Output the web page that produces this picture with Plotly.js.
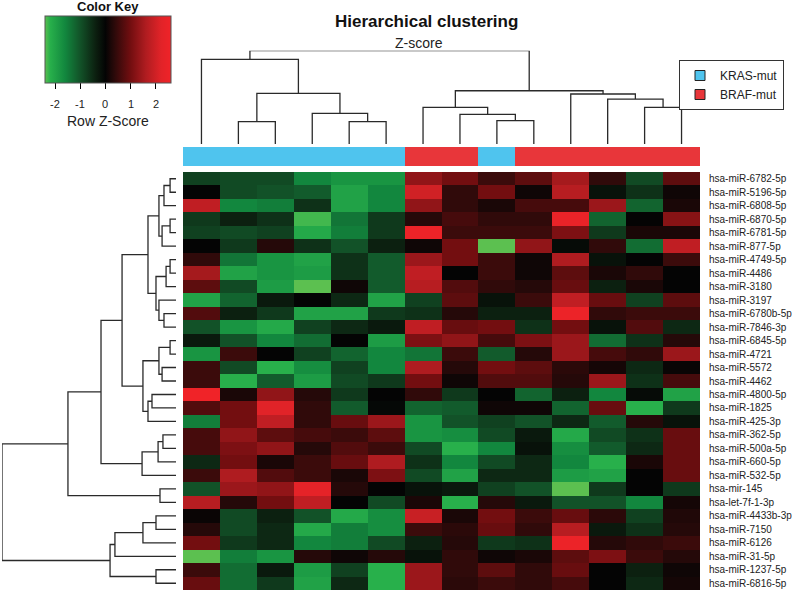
<!DOCTYPE html>
<html><head><meta charset="utf-8">
<script src="https://cdn.plot.ly/plotly-3.0.1.min.js"></script>
<style>html,body{margin:0;padding:0;background:#fff}#chart{width:800px;height:593px}</style>
</head><body><div id="chart"></div>
<script>
// ---- data ----
const sampleGroups = ['KRAS-mut','KRAS-mut','KRAS-mut','KRAS-mut','KRAS-mut','KRAS-mut',
  'BRAF-mut','BRAF-mut','KRAS-mut','BRAF-mut','BRAF-mut','BRAF-mut','BRAF-mut','BRAF-mut'];
const groupNames = ['KRAS-mut','BRAF-mut'];
const groupColors = ['#4fc4ee','#e8363a'];

const geneLabels = ['hsa-miR-6782-5p','hsa-miR-5196-5p','hsa-miR-6808-5p','hsa-miR-6870-5p','hsa-miR-6781-5p',
  'hsa-miR-877-5p','hsa-miR-4749-5p','hsa-miR-4486','hsa-miR-3180','hsa-miR-3197','hsa-miR-6780b-5p',
  'hsa-miR-7846-3p','hsa-miR-6845-5p','hsa-miR-4721','hsa-miR-5572','hsa-miR-4462','hsa-miR-4800-5p',
  'hsa-miR-1825','hsa-miR-425-3p','hsa-miR-362-5p','hsa-miR-500a-5p','hsa-miR-660-5p','hsa-miR-532-5p',
  'hsa-mir-145','hsa-let-7f-1-3p','hsa-miR-4433b-3p','hsa-miR-7150','hsa-miR-6126','hsa-miR-31-5p',
  'hsa-miR-1237-5p','hsa-miR-6816-5p'];

const zscores = [
  [-0.8,-0.9,-0.9,-1.6,-1.8,-1.8, 1.3, 1.0, 0.5, 0.8, 1.5, 0.4,-0.9, 0.8],
  [ 0.0,-0.9,-1.0,-1.1,-2.0,-1.6, 2.0, 0.4, 1.0, 0.1, 1.7,-0.2,-0.6, 0.1],
  [ 1.8,-1.6,-1.5,-0.6,-2.0,-1.6, 1.3, 0.4, 0.2, 0.6, 0.6, 1.4,-1.2, 0.2],
  [-0.7,-0.4,-0.6,-2.3,-1.4,-0.7, 0.3, 0.6, 0.4, 0.4, 2.4,-1.2, 0.0, 1.2],
  [-0.8,-0.9,-0.8,-2.1,-1.5,-0.7, 2.5, 0.5, 0.5, 0.5, 1.1,-0.7, 0.2, 0.2],
  [ 0.0,-0.7, 0.3,-0.6,-1.0,-0.4, 0.1, 1.0,-2.6, 1.3,-0.1, 0.4,-1.3, 1.8],
  [ 0.4,-1.4,-1.8,-2.0,-0.6,-1.1, 1.4, 1.0, 0.5, 0.1, 1.6,-0.2, 0.0, 0.5],
  [ 1.5,-2.0,-1.8,-1.9,-0.6,-1.1, 1.8, 0.0, 0.5, 0.1, 0.8, 0.2, 0.4, 0.0],
  [ 0.8,-0.9,-1.9,-2.5, 0.1,-1.1, 1.7, 0.7, 0.4, 0.3, 0.9,-0.4, 0.2, 0.0],
  [-2.0,-1.2,-0.3, 0.0,-0.5,-2.0,-0.8, 0.8,-0.2, 0.5, 1.8, 0.9,-0.8, 0.8],
  [ 0.7,-0.4,-0.7,-2.0,-2.0,-0.7,-0.6, 0.3,-0.4,-0.4, 2.5, 0.4, 0.5, 0.5],
  [-1.0,-1.8,-2.1,-0.8,-0.5,-0.3, 1.8, 0.9, 1.0,-0.6, 1.0,-0.2, 0.7,-0.5],
  [-0.3,-1.0,-1.6,-1.3, 0.0,-1.9, 1.1, 1.3, 0.6, 1.1, 1.4,-1.3,-0.6, 0.3],
  [-1.8, 0.5, 0.0,-0.8,-1.2,-1.6,-1.4, 0.5,-1.1, 0.3, 1.4, 0.6, 0.4, 1.4],
  [ 0.5,-0.9,-2.2,-1.7,-0.8,-1.6, 1.6, 0.3, 1.0, 0.8, 0.35,0.15,-0.5,0.05],
  [ 0.5,-2.2,-1.1,-1.9,-0.9,-0.7, 1.0, 0.1, 0.7, 0.7, 0.3, 1.4,-0.6, 0.6],
  [ 2.6, 0.2, 1.3, 0.3,-0.7, 0.0, 0.4,-0.7, 0.0,-1.2,-0.4,-1.6,-0.1,-2.0],
  [ 0.7, 1.0, 2.2, 0.4,-1.1,-0.05,-1.2,-1.1,0.1, 0.1,-1.2, 0.9,-2.2,-0.7],
  [-1.5, 1.0, 1.8, 0.4, 0.9, 1.4,-1.8,-1.0,-0.8,-1.0,-0.5,-1.1, 0.3,-0.2],
  [ 0.6, 1.3, 0.8, 0.6, 0.5, 0.8,-1.8,-1.7,-0.9,-0.3,-2.1,-0.9,-0.6, 0.9],
  [ 0.6, 1.1, 1.3, 0.3, 0.7, 0.5,-0.9,-2.2,-1.6,-0.2,-1.7,-1.1,-0.5, 0.9],
  [-0.5, 1.0, 0.2, 0.5, 0.9, 1.6,-0.6,-1.6,-0.9,-0.5,-1.6,-2.2, 0.2, 0.9],
  [ 0.5, 1.6, 0.7, 0.5, 0.2, 1.1,-0.9,-2.0,-0.5,-0.5,-1.9,-2.0, 0.0, 0.9],
  [-1.0, 1.4, 1.3, 2.3, 0.3, 0.0,-0.2,-0.3,-0.8,-1.0,-2.4,-0.7, 0.0,-0.7],
  [ 1.7, 0.3, 1.0, 1.8, 0.0,-0.9, 0.2,-2.2, 0.3,-0.3,-1.0,-1.0,-1.6, 0.15],
  [ 0.05,-0.9,-0.4,-1.0,-2.1,-1.7,1.9, 0.2, 1.0, 0.5, 0.9, 0.35,-0.8,0.25],
  [ 0.3,-0.9,-0.5,-2.1,-1.5,-1.7, 0.5, 0.35,0.9, 0.4, 1.7,-0.3,-0.6, 0.3],
  [ 1.0,-0.7,-0.5,-1.6,-1.5,-0.9,-0.4, 0.3,-0.7,-0.6, 2.5, 0.3, 0.4, 0.5],
  [-2.5,-1.5,-1.8, 0.3, 0.1, 0.3,-0.2, 0.4, 0.1, 0.2, 0.8, 1.1, 0.5, 0.3],
  [ 0.5,-1.3,-0.3,-1.9,-0.8,-2.2, 1.4, 0.4, 0.8, 0.4, 0.9, 0.0,-0.4, 0.1],
  [ 0.9,-1.3,-0.7,-2.0,-0.5,-2.2, 1.4, 0.35,0.5, 0.4, 0.6, 0.0,-0.5, 0.15]
];

// column dendrogram (hclust style merge: negative = leaf, positive = earlier merge)
const colMergeLeft   = [-2,-5,-4, 1,-1,-9,-8,-7,-13,-12,-11, 8, 5];
const colMergeRight  = [-3,-6, 2, 3, 4,-10, 6, 7,-14,  9, 10,11,12];
const colMergeHeight = [2.39,2.39,3.29,5.43,9.08,2.5,3.18,3.93,3.93,4.82,5.36,5.71,10];

// row dendrogram
const rowMergeLeft   = [-1, 1,-4, 3, 2,-7, 6,-11,-10, 7, 5,-13,-15,12,-17,15,14,11,-20,19,20,18,-24,22,-26,25,26,-30,27,24];
const rowMergeRight  = [-2,-3,-5,-6, 4,-8,-9,-12,  8, 9,10,-14,-16,13,-18,-19,16,17,-21,-22,-23,21,-25,23,-27,-28,-29,-31,28,29];
const rowMergeHeight = [0.34,0.69,0.34,0.80,0.98,0.34,0.57,0.69,0.98,1.15,1.61,0.34,0.80,0.98,1.38,1.61,1.90,3.10,0.75,1.03,1.95,4.31,0.92,6.21,1.15,1.90,3.51,1.15,3.79,10];

// colour key
const keyStops  = [-2.4,-2.2,-1.6,-1.0,-0.4,0,0.4,1.0,1.6,2.2,2.6];
const keyColors = ['rgb(92,192,80)','rgb(40,176,75)','rgb(18,135,62)','rgb(18,82,40)','rgb(12,32,16)',
  'rgb(4,4,4)','rgb(48,10,10)','rgb(115,14,16)','rgb(175,28,32)','rgb(225,35,40)','rgb(240,35,40)'];
const keyTicks = [-2,-1,0,1,2];
const keyTickText = ['-2','-1','0','1','2'];

// ---- build ----
const W = 800, H = 593;
const zmin = keyStops[0], zmax = keyStops[keyStops.length-1];
const colorscale = keyStops.map((s,i)=>[(s-zmin)/(zmax-zmin), keyColors[i]]);
const KEY_L = 45, KEY_W = 126, KEY_T = 16, KEY_H = 67;

function dendro(left, right, height){
  const pos=[], hgt=[], p=[], h=[];
  const np = i => i<0 ? -i-1 : pos[i-1];
  const nh = i => i<0 ? 0 : hgt[i-1];
  for(let k=0;k<left.length;k++){
    const pl=np(left[k]), pr=np(right[k]), hl=nh(left[k]), hr=nh(right[k]), hh=height[k];
    p.push(pl,pl,pr,pr,null); h.push(hl,hh,hh,hr,null);
    pos.push((pl+pr)/2); hgt.push(hh);
  }
  return {p,h};
}
const colD = dendro(colMergeLeft,colMergeRight,colMergeHeight);
const rowD = dendro(rowMergeLeft,rowMergeRight,rowMergeHeight);
const colIdx = sampleGroups.map((_,i)=>i);
const rowIdx = geneLabels.map((_,i)=>i);
const lineStyle = {color:'#2a2a2a', width:1.3};
const FONT = 'Liberation Sans, Arial, sans-serif';

const traces = [
  {type:'heatmap', x:colIdx, y:rowIdx, z:zscores, xaxis:'x', yaxis:'y',
   colorscale, zmin, zmax, showscale:true, hoverinfo:'z',
   colorbar:{orientation:'h', x:(KEY_L+KEY_W/2)/W, xanchor:'center', y:1-KEY_T/H, yanchor:'top',
     len:KEY_W, lenmode:'pixels', thickness:KEY_H, thicknessmode:'pixels',
     outlinecolor:'#555', outlinewidth:1, xpad:0, ypad:0,
     tickvals:keyTicks, ticks:'outside', ticklen:6, tickcolor:'#000', tickwidth:1,
     showticklabels:false, title:{text:''}}},
  {type:'heatmap', x:colIdx, y:[0], z:[sampleGroups.map(g=>groupNames.indexOf(g))],
   xaxis:'x', yaxis:'y3', showscale:false, zmin:0, zmax:1, hoverinfo:'skip',
   colorscale:[[0,groupColors[0]],[0.5,groupColors[0]],[0.5,groupColors[1]],[1,groupColors[1]]]},
  {type:'scatter', mode:'lines', x:colD.p, y:colD.h, xaxis:'x', yaxis:'y2', line:lineStyle,
   showlegend:false, hoverinfo:'skip'},
  {type:'scatter', mode:'lines', x:rowD.h, y:rowD.p, xaxis:'x2', yaxis:'y', line:lineStyle,
   showlegend:false, hoverinfo:'skip'}
];
groupNames.forEach((g,i)=>traces.push({type:'scatter', mode:'markers', x:[null], y:[null],
  xaxis:'x', yaxis:'y', name:g, showlegend:true,
  marker:{symbol:'square', size:10, color:groupColors[i], line:{color:'#222', width:1}}}));

const annotations = [
  {text:'<b>Hierarchical clustering</b>', x:427/W, y:1-21/H, xref:'paper', yref:'paper',
   showarrow:false, font:{size:17, family:FONT, color:'#111'}, xanchor:'center', yanchor:'middle'},
  {text:'Z-score', x:419/W, y:1-43/H, xref:'paper', yref:'paper',
   showarrow:false, font:{size:14, family:FONT, color:'#222'}, xanchor:'center', yanchor:'middle'},
  {text:'<b>Color Key</b>', x:(KEY_L+KEY_W/2)/W, y:1-6/H, xref:'paper', yref:'paper',
   showarrow:false, font:{size:13, family:FONT, color:'#111'}, xanchor:'center', yanchor:'middle'},
  {text:'Row Z-Score', x:(KEY_L+KEY_W/2)/W, y:1-121/H, xref:'paper', yref:'paper',
   showarrow:false, font:{size:14, family:FONT, color:'#222'}, xanchor:'center', yanchor:'middle'}
];
keyTicks.forEach((v,i)=>annotations.push({text:keyTickText[i],
  x:(KEY_L + (v-zmin)/(zmax-zmin)*KEY_W)/W, y:1-104/H, xref:'paper', yref:'paper',
  showarrow:false, font:{size:11, family:FONT, color:'#222'}, xanchor:'center', yanchor:'middle'}));

const layout = {
  width:W, height:H, margin:{l:0,r:0,t:0,b:0}, paper_bgcolor:'#fff', plot_bgcolor:'#fff',
  font:{family:FONT, color:'#222'},
  xaxis:{domain:[183/W,700/W], range:[-0.5,13.5], visible:false, fixedrange:true},
  yaxis:{domain:[3/H,421/H], range:[30.5,-0.5], side:'right', anchor:'x',
    tickvals:rowIdx, ticktext:geneLabels, ticks:'', showgrid:false, zeroline:false, showline:false,
    tickfont:{size:10, color:'#222', family:FONT}, ticklabelstandoff:8},
  yaxis2:{domain:[(H-144)/H,(H-50.7)/H], range:[0,10], visible:false, anchor:'x'},
  yaxis3:{domain:[(H-166)/H,(H-147)/H], range:[-0.5,0.5], visible:false, anchor:'x'},
  xaxis2:{domain:[2/W,176/W], range:[10,0], visible:false, anchor:'y'},
  showlegend:true,
  legend:{x:679/W, y:1-60/H, xanchor:'left', yanchor:'top', bordercolor:'#333', borderwidth:1,
    bgcolor:'#fff', font:{size:12, family:FONT, color:'#222'}, itemwidth:30, tracegroupgap:0},
  annotations
};
Plotly.newPlot('chart', traces, layout, {staticPlot:true, displayModeBar:false});
</script></body></html>
